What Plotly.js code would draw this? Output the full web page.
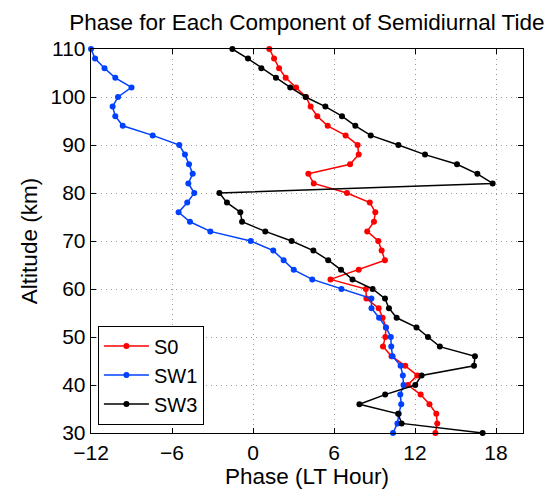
<!DOCTYPE html>
<html>
<head>
<meta charset="utf-8">
<script src="https://cdn.plot.ly/plotly-3.0.1.min.js"></script>
<style>html,body{margin:0;padding:0;background:#fff;}#chart{width:547px;height:491px;}</style>
</head>
<body>
<div id="chart"></div>
<script>
var altitude = [30,32,34,36,38,40,42,44,46,48,50,52,54,56,58,60,62,64,66,68,70,72,74,76,78,80,82,84,86,88,90,92,94,96,98,100,102,104,106,108,110];
var s0Phase = [13.51,13.65,13.58,13.07,12.42,11.47,12.17,11.28,10.26,9.63,9.80,9.85,9.6,9.31,8.40,8.36,5.74,7.83,9.77,9.53,9.28,8.46,8.96,9.06,8.65,6.96,4.50,4.10,7.19,7.83,7.75,6.86,5.53,4.76,4.27,3.93,3.19,2.42,1.93,1.56,1.21];
var sw1Phase = [10.37,10.70,10.80,10.98,10.91,11.15,11.10,10.93,10.34,10.24,10.21,9.85,9.34,8.78,8.77,6.55,4.39,3.02,2.27,1.50,-0.17,-3.16,-4.67,-5.51,-4.87,-4.35,-4.79,-4.47,-4.74,-5.04,-5.46,-7.43,-9.65,-10.2,-10.4,-10.0,-9.0,-10.2,-11.0,-11.7,-12.0];
var sw3Phase = [17.01,11.01,10.75,7.88,9.79,12.02,12.49,16.37,16.44,13.84,12.96,12.11,10.64,10.07,9.78,8.86,7.37,6.52,5.57,4.47,2.86,0.91,-0.81,-0.94,-1.93,-2.49,17.75,16.62,15.11,12.74,10.77,8.72,7.58,6.59,5.36,3.90,2.76,1.70,0.62,-0.37,-1.53];
var seriesNames = ["S0","SW1","SW3"];
var xTickVals = [-12,-6,0,6,12,18];
var xTickText = ["\u221212","\u22126","0","6","12","18"];
var yTickVals = [30,40,50,60,70,80,90,100,110];

var colors = ["#ff0000","#0040ff","#000000"];
var seriesX = [s0Phase, sw1Phase, sw3Phase];
var traces = seriesX.map(function(xs, i){
  return {
    x: xs, y: altitude, name: seriesNames[i], type: "scatter", mode: "lines+markers",
    line: {color: colors[i], width: 1.5},
    marker: {color: colors[i], size: 6},
    cliponaxis: false
  };
});

var font = "Liberation Sans, Arial, sans-serif";
var layout = {
  width: 547, height: 491,
  margin: {l: 91, r: 24, t: 49, b: 58},
  paper_bgcolor: "#fff", plot_bgcolor: "#fff",
  font: {family: font, size: 21, color: "#000"},
  title: {text: "Phase for Each Component of Semidiurnal Tide", font: {family: font, size: 22.5, color: "#000"}, x: 0.561, xanchor: "center", y: 0.955, yanchor: "middle"},
  xaxis: {
    range: [-12, 20], tickvals: xTickVals, ticktext: xTickText,
    ticks: "inside", ticklen: 5, tickcolor: "#000", mirror: "allticks",
    showline: true, linecolor: "#000", linewidth: 1.3,
    showgrid: true, gridcolor: "#999999", griddash: "1px,4px", gridwidth: 1,
    zeroline: false, tickfont: {size: 21},
    title: {text: "Phase (LT Hour)", font: {size: 22.5}, standoff: 5}
  },
  yaxis: {
    range: [30, 110], tickvals: yTickVals,
    ticks: "inside", ticklen: 5, tickcolor: "#000", mirror: "allticks",
    showline: true, linecolor: "#000", linewidth: 1.3,
    showgrid: true, gridcolor: "#999999", griddash: "1px,4px", gridwidth: 1,
    zeroline: false, tickfont: {size: 21},
    title: {text: "Altitude (km)", font: {size: 22.5}, standoff: 6}
  },
  legend: {
    x: 0.016, y: 0.022, xanchor: "left", yanchor: "bottom",
    bgcolor: "#fff", bordercolor: "#000", borderwidth: 1,
    font: {size: 20}, tracegroupgap: 0, itemwidth: 45
  },
  showlegend: true
};

Plotly.newPlot("chart", traces, layout, {displayModeBar: false, staticPlot: true});
</script>
</body>
</html>
